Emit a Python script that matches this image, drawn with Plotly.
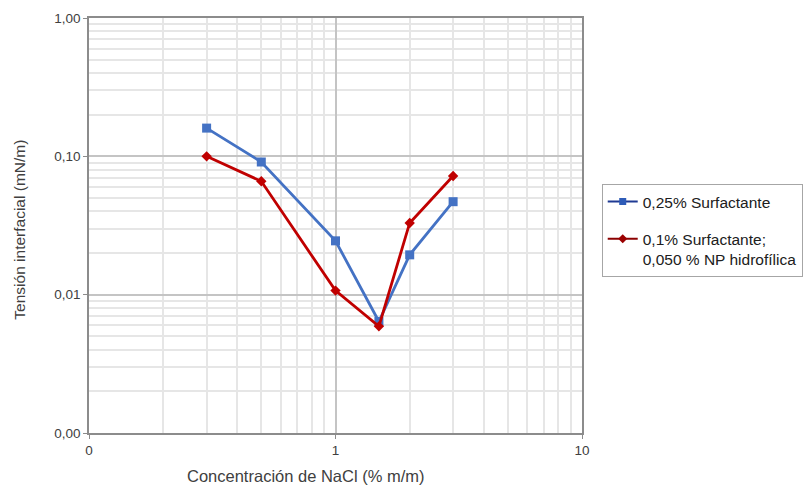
import plotly.graph_objects as go

nacl = [0.3, 0.5, 1.0, 1.5, 2.0, 3.0]
surf_025 = [0.160, 0.091, 0.0245, 0.0064, 0.0194, 0.047]
surf_01_np = [0.100, 0.066, 0.0107, 0.0059, 0.033, 0.072]

x_tickvals = [0.1, 1, 10]
x_ticktext = ["0", "1", "10"]
y_tickvals = [0.001, 0.01, 0.1, 1]
y_ticktext = ["0,00", "0,01", "0,10", "1,00"]

name1 = "0,25% Surfactante"
name2 = "0,1% Surfactante;<br>0,050 % NP hidrofílica"

blue = "#4472C4"
red = "#C00000"
font = "Liberation Sans, Arial, sans-serif"

fig = go.Figure()
fig.add_trace(go.Scatter(x=nacl, y=surf_025, mode="lines+markers", showlegend=False,
                         line=dict(color=blue, width=2.8),
                         marker=dict(symbol="square", size=9, color=blue)))
fig.add_trace(go.Scatter(x=nacl, y=surf_01_np, mode="lines+markers", showlegend=False,
                         line=dict(color=red, width=2.8),
                         marker=dict(symbol="diamond", size=8, color=red)))
# legend entries
fig.add_trace(go.Scatter(x=[None], y=[None], mode="lines+markers", name=name1,
                         legendgroup="a",
                         line=dict(color="#1F3A93", width=2),
                         marker=dict(symbol="square", size=7, color="#2E5CB8")))
fig.add_trace(go.Scatter(x=[None], y=[None], mode="lines+markers", name=name2,
                         legendgroup="b",
                         line=dict(color="#8B0000", width=2),
                         marker=dict(symbol="diamond", size=7, color="#9B0000")))

axis_common = dict(
    type="log", showline=True, linecolor="#8c8c8c", linewidth=1.5, mirror=True,
    ticks="outside", ticklen=4, tickcolor="#8c8c8c",
    showgrid=True, gridcolor="#c4c4c4", gridwidth=1.5,
    tickfont=dict(family=font, size=13.5, color="#404040"),
    minor=dict(showgrid=True, gridcolor="#e6e6e6", gridwidth=1.5, dtick="D1", ticks=""),
    zeroline=False,
)

fig.update_layout(
    width=811, height=485,
    margin=dict(l=89, r=229, t=18, b=52, autoexpand=False),
    paper_bgcolor="white", plot_bgcolor="white",
    font=dict(family=font, size=13, color="#404040"),
    xaxis=dict(axis_common, range=[-1, 1], tickvals=x_tickvals, ticktext=x_ticktext),
    yaxis=dict(axis_common, range=[-3, 0], tickvals=y_tickvals, ticktext=y_ticktext),
    legend=dict(x=1.04, y=0.6, xanchor="left", yanchor="top",
                bordercolor="#a6a6a6", borderwidth=1, bgcolor="white",
                font=dict(family=font, size=15.5, color="#202020"),
                tracegroupgap=14, itemwidth=30, valign="top"),
    annotations=[
        dict(text="Concentración de NaCl (% m/m)", xref="paper", yref="paper",
             x=0.44, y=-0.104, xanchor="center", yanchor="middle", showarrow=False,
             font=dict(family=font, size=16.5, color="#404040")),
        dict(text="Tensión interfacial (mN/m)", xref="paper", yref="paper",
             x=-0.14, y=0.49, xanchor="center", yanchor="middle", showarrow=False,
             textangle=-90, font=dict(family=font, size=15.5, color="#404040")),
    ],
)

fig.write_html("out.html")
